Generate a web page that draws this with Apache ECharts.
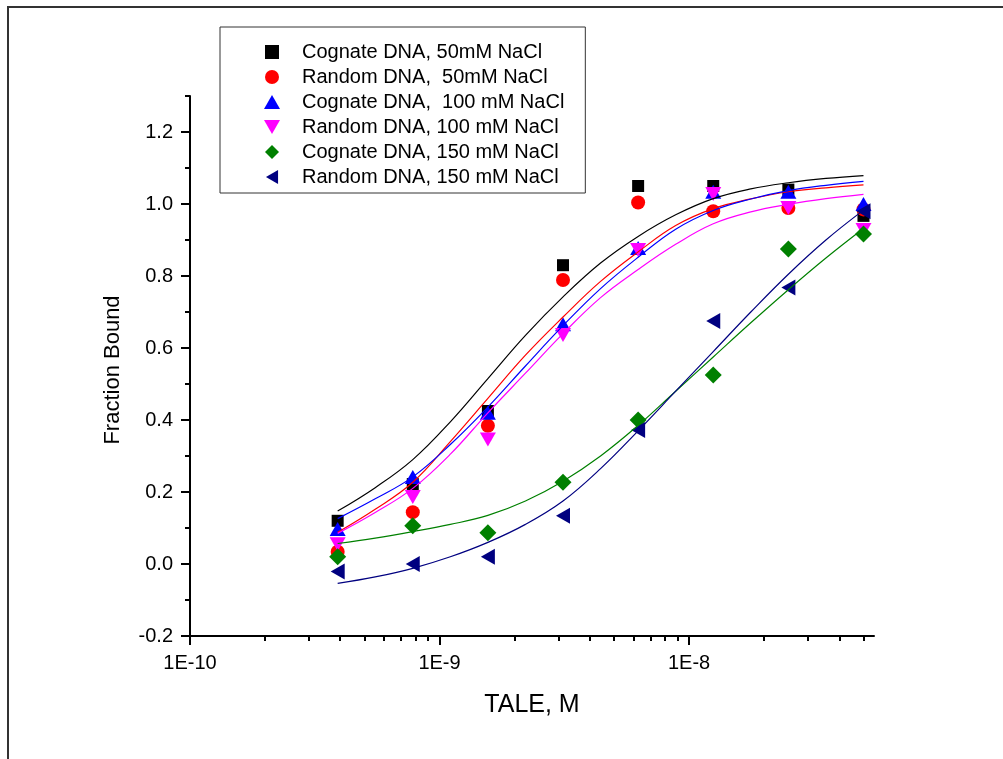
<!DOCTYPE html>
<html>
<head>
<meta charset="utf-8">
<script src="https://cdn.jsdelivr.net/npm/echarts@6/dist/echarts.min.js"></script>
<style>
  html, body { margin: 0; padding: 0; background: #fff; }
  #chart { width: 1003px; height: 759px; }
</style>
</head>
<body>
<div id="chart"></div>
<script>
// TALE titration: concentrations (M) and fraction of DNA bound
const conc = [3.90625e-10, 7.8125e-10, 1.5625e-9, 3.125e-9, 6.25e-9, 1.25e-8, 2.5e-8, 5e-8];

const cognate50  = [0.120, 0.222, 0.425, 0.830, 1.050, 1.050, 1.040, 0.967];
const random50   = [0.034, 0.144, 0.384, 0.789, 1.004, 0.980, 0.989, 0.985];
const cognate100 = [0.097, 0.242, 0.420, 0.666, 0.878, 1.034, 1.034, 1.000];
const random100  = [0.055, 0.186, 0.346, 0.636, 0.872, 1.028, 0.989, 0.928];
const cognate150 = [0.020, 0.106, 0.087, 0.227, 0.400, 0.525, 0.875, 0.917];
const random150  = [-0.021, 0.000, 0.020, 0.134, 0.372, 0.675, 0.768, 0.980];

// Fitted binding curves, sampled at half-step dilutions
const fitConc = [3.90625e-10, 5.524e-10, 7.8125e-10, 1.1049e-9, 1.5625e-9, 2.2097e-9, 3.125e-9,
                 4.4194e-9, 6.25e-9, 8.8388e-9, 1.25e-8, 1.7678e-8, 2.5e-8, 3.5355e-8, 5e-8];
const fitCognate50  = [0.147, 0.212, 0.290, 0.395, 0.515, 0.635, 0.742, 0.836, 0.910, 0.970, 1.015, 1.042, 1.059, 1.071, 1.079];
const fitRandom50   = [0.088, 0.152, 0.227, 0.340, 0.460, 0.580, 0.686, 0.785, 0.867, 0.940, 0.987, 1.014, 1.034, 1.045, 1.053];
const fitCognate100 = [0.126, 0.181, 0.242, 0.332, 0.436, 0.550, 0.662, 0.765, 0.852, 0.930, 0.982, 1.014, 1.037, 1.052, 1.063];
const fitRandom100  = [0.085, 0.143, 0.210, 0.305, 0.420, 0.530, 0.640, 0.740, 0.818, 0.888, 0.945, 0.978, 0.999, 1.015, 1.027];
const fitCognate150 = [0.057, 0.072, 0.090, 0.110, 0.135, 0.175, 0.230, 0.300, 0.385, 0.480, 0.575, 0.670, 0.762, 0.850, 0.932];
const fitRandom150  = [-0.054, -0.036, -0.012, 0.020, 0.060, 0.110, 0.175, 0.265, 0.370, 0.480, 0.590, 0.700, 0.805, 0.900, 0.983];

// Axis ticks
const xMajorTicks = [1e-10, 1e-9, 1e-8];
const xMinorTicks = [2e-10, 3e-10, 4e-10, 5e-10, 6e-10, 7e-10, 8e-10, 9e-10,
                     2e-9, 3e-9, 4e-9, 5e-9, 6e-9, 7e-9, 8e-9, 9e-9,
                     2e-8, 3e-8, 4e-8, 5e-8];
const yMajorTicks = [-0.2, 0.0, 0.2, 0.4, 0.6, 0.8, 1.0, 1.2];
const yMinorTicks = [-0.1, 0.1, 0.3, 0.5, 0.7, 0.9, 1.1, 1.3];

const FONT = "'Liberation Sans', Arial, Helvetica, sans-serif";

// Legend icons as paths so they keep their proportions
const ICON_SQUARE   = 'path://M0,0 L12,0 L12,12 L0,12 Z';
const ICON_CIRCLE   = 'path://M7,0 A7,7 0 1,1 7,14 A7,7 0 1,1 7,0 Z';
const ICON_TRI_UP   = 'path://M8,0 L16,14 L0,14 Z';
const ICON_TRI_DOWN = 'path://M0,0 L16,0 L8,14 Z';
const ICON_DIAMOND  = 'path://M8,0 L16,8 L8,16 L0,8 Z';
const ICON_TRI_LEFT = 'path://M13,0 L13,15 L0,7.5 Z';

const groups = [
  { name: 'Cognate DNA, 50mM NaCl',     y: cognate50,  fit: fitCognate50,  color: '#000000', symbol: 'rect',     icon: ICON_SQUARE,   size: [12, 12], rotate: 0 },
  { name: 'Random DNA,  50mM NaCl',     y: random50,   fit: fitRandom50,   color: '#ff0000', symbol: 'circle',   icon: ICON_CIRCLE,   size: 14,       rotate: 0 },
  { name: 'Cognate DNA,  100 mM NaCl',  y: cognate100, fit: fitCognate100, color: '#0000ff', symbol: 'triangle', icon: ICON_TRI_UP,   size: [16, 14], rotate: 0 },
  { name: 'Random DNA, 100 mM NaCl',    y: random100,  fit: fitRandom100,  color: '#ff00ff', symbol: 'triangle', icon: ICON_TRI_DOWN, size: [16, 14], rotate: 180 },
  { name: 'Cognate DNA, 150 mM NaCl',   y: cognate150, fit: fitCognate150, color: '#008000', symbol: 'diamond',  icon: ICON_DIAMOND,  size: [17, 17], rotate: 0 },
  { name: 'Random DNA, 150 mM NaCl',    y: random150,  fit: fitRandom150,  color: '#000080', symbol: 'triangle', icon: ICON_TRI_LEFT, size: [16, 14], rotate: 90 }
];

const scatterSeries = groups.map(g => ({
  name: g.name,
  type: 'scatter',
  xAxisIndex: 0,
  yAxisIndex: 0,
  symbol: g.symbol,
  symbolSize: g.size,
  symbolRotate: g.rotate,
  itemStyle: { color: g.color, opacity: 1 },
  data: conc.map((c, i) => [c, g.y[i]]),
  z: 2
}));

const fitSeries = groups.map(g => ({
  name: g.name + ' fit',
  type: 'line',
  xAxisIndex: 0,
  yAxisIndex: 0,
  showSymbol: false,
  symbol: 'none',
  smooth: 0.4,
  lineStyle: { color: g.color, width: 1.2 },
  data: fitConc.map((c, i) => [c, g.fit[i]]),
  z: 3
}));

const chart = echarts.init(document.getElementById('chart'), null, { renderer: 'canvas' });

chart.setOption({
  animation: false,
  backgroundColor: '#ffffff',
  textStyle: { fontFamily: FONT },
  grid: { left: 190, right: 129, top: 96, bottom: 123, containLabel: false, outerBoundsMode: 'none' },
  graphic: [{
    type: 'rect',
    shape: { x: 8, y: 7, width: 1200, height: 1000 },
    style: { fill: 'none', stroke: '#333333', lineWidth: 2 },
    silent: true,
    z: 0
  }],
  legend: {
    orient: 'vertical',
    left: 220,
    top: 27,
    padding: [15, 21, 6, 44],
    itemWidth: 50,
    itemHeight: 14,
    itemGap: 5,
    symbolKeepAspect: true,
    borderColor: '#333333',
    borderWidth: 1,
    backgroundColor: '#ffffff',
    selectedMode: false,
    data: groups.map(g => ({ name: g.name, icon: g.icon })),
    textStyle: { fontFamily: FONT, fontSize: 20, color: '#000', lineHeight: 20 }
  },
  xAxis: [{
    type: 'log',
    logBase: 10,
    min: 1e-10,
    max: 5.51e-8,
    position: 'bottom',
    name: 'TALE, M',
    nameLocation: 'middle',
    nameGap: 57,
    nameTextStyle: { fontFamily: FONT, fontSize: 25, color: '#000' },
    axisLine: { show: true, onZero: false, lineStyle: { color: '#000', width: 2 } },
    axisTick: { show: true, inside: false, length: 9, customValues: xMajorTicks, lineStyle: { color: '#000', width: 2 } },
    axisLabel: {
      show: true, margin: 17, customValues: xMajorTicks,
      fontFamily: FONT, fontSize: 20, color: '#000',
      formatter: v => Number(v).toExponential(0).toUpperCase().replace('+', '')
    },
    splitLine: { show: false },
    minorTick: { show: false }
  }, {
    type: 'log',
    logBase: 10,
    min: 1e-10,
    max: 5.51e-8,
    position: 'bottom',
    axisLine: { show: false, onZero: false },
    axisTick: { show: true, inside: false, length: 5, customValues: xMinorTicks, lineStyle: { color: '#000', width: 2 } },
    axisLabel: { show: false },
    splitLine: { show: false }
  }],
  yAxis: [{
    type: 'value',
    min: -0.2,
    max: 1.3,
    interval: 0.2,
    position: 'left',
    name: 'Fraction Bound',
    nameLocation: 'middle',
    nameGap: 66,
    nameRotate: 90,
    nameTextStyle: { fontFamily: FONT, fontSize: 22, color: '#000', padding: [0, 8, 0, 0] },
    axisLine: { show: true, onZero: false, lineStyle: { color: '#000', width: 2 } },
    axisTick: { show: true, inside: false, length: 9, customValues: yMajorTicks, lineStyle: { color: '#000', width: 2 } },
    axisLabel: {
      show: true, margin: 17, customValues: yMajorTicks,
      fontFamily: FONT, fontSize: 20, color: '#000',
      formatter: v => Number(v).toFixed(1)
    },
    splitLine: { show: false }
  }, {
    type: 'value',
    min: -0.2,
    max: 1.3,
    position: 'left',
    offset: 0,
    axisLine: { show: false, onZero: false },
    axisTick: { show: true, inside: false, length: 5, customValues: yMinorTicks, lineStyle: { color: '#000', width: 2 } },
    axisLabel: { show: false },
    splitLine: { show: false }
  }],
  series: scatterSeries.concat(fitSeries)
});
</script>
</body>
</html>
